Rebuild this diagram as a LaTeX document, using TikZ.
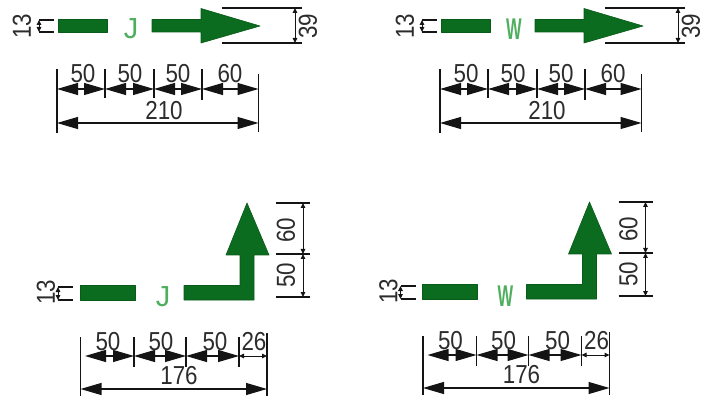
\documentclass[tikz,border=0pt]{standalone}
\usepackage{fontspec}
\setmainfont{Liberation Sans}
\usetikzlibrary{arrows.meta}
\definecolor{arrowgreen}{HTML}{0B6B1E}
\definecolor{lettergreen}{HTML}{4FAF5F}
\definecolor{inkgrey}{HTML}{141414}
\tikzset{
  x=1pt,y=-1pt,
  shapefill/.style={fill=arrowgreen,draw=arrowgreen!85!black,line width=.6pt,line join=round},
  ruling/.style={draw=inkgrey,line width=1.4pt},
  bigdim/.style={draw=inkgrey,line width=1.1pt,{Triangle[length=21pt,width=12pt]}-{Triangle[length=21pt,width=12pt]}},
  smalldim/.style={draw=inkgrey,line width=1pt,{Triangle[length=5pt,width=4.5pt]}-{Triangle[length=5pt,width=4.5pt]}},
  numlabel/.style={inner sep=0pt,text=inkgrey!90!white,xscale=.86,font=\fontsize{26}{26}\selectfont},
  sidelabel/.style={rotate=90,numlabel},
  letterJ/.style={inner sep=0pt,text=lettergreen,font=\fontsize{29}{29}\selectfont},
  letterW/.style={inner sep=0pt,text=lettergreen,xscale=.55,font=\bfseries\fontsize{30}{30}\selectfont},
}
\newcommand{\rulepair}[5]{%
  \coordinate (#1a) at (#2,#3); \coordinate (#1b) at (#4,#5);
  \draw[ruling] (#1a) -- (#1b);}
\newcommand{\spanarrow}[6]{%
  \coordinate (#1a) at (#2,#3); \coordinate (#1b) at (#4,#5);
  \draw[#6] (#1a) -- (#1b);}
\newcommand{\sidebracket}[3]{% x of left side, y top, y bottom
  \coordinate (bkA) at (#1+15,#2); \coordinate (bkB) at (#1,#2);
  \coordinate (bkC) at (#1,#3); \coordinate (bkD) at (#1+15,#3);
  \draw[ruling] (bkA) -- (bkB); \draw[ruling] (bkC) -- (bkD);
  \draw[smalldim] (bkB) -- (bkC);}
\newcommand{\toppanel}[3]{%
  \begin{scope}[shift={(#1,-1)}]
    \node[sidelabel] (thirteen) at (22,27) {13};
    \sidebracket{39}{21}{33}
    \filldraw[shapefill] (58,20.5) rectangle (107,33);
    \node[#2] (letter) at (131,30) {#3};
    \filldraw[shapefill] (152,20.5) -- (201,20.5) -- (201,9.5) -- (260,27) -- (201,44) -- (201,33) -- (152,33) -- cycle;
    \rulepair{eA}{222}{9}{302}{9}
    \rulepair{eB}{222}{44}{302}{44}
    \spanarrow{dA}{295}{9}{295}{44}{smalldim}
    \node[sidelabel] (thirtynine) at (308,27) {39};
    \rulepair{tA}{57}{70}{57}{134}
    \rulepair{tB}{105}{70}{105}{99}
    \rulepair{tC}{154}{70}{154}{99}
    \rulepair{tD}{202}{70}{202}{101}
    \rulepair{tE}{258.5}{75}{258.5}{133}
    \spanarrow{sA}{57}{90}{105}{90}{bigdim}
    \spanarrow{sB}{105}{90}{154}{90}{bigdim}
    \spanarrow{sC}{154}{90}{202}{90}{bigdim}
    \spanarrow{sD}{202}{90}{258.5}{90}{bigdim}
    \spanarrow{sE}{57}{124}{258.5}{124}{bigdim}
    \node[numlabel] (nA) at (83,75) {50};
    \node[numlabel] (nB) at (130,75) {50};
    \node[numlabel] (nC) at (178,75) {50};
    \node[numlabel] (nD) at (230,75) {60};
    \node[numlabel] (nE) at (164,112) {210};
  \end{scope}}
\newcommand{\bottompanel}[4]{%
  \begin{scope}[shift={(#1,#2)}]
    \node[sidelabel] (thirteen) at (46,292) {13};
    \sidebracket{58}{287}{300}
    \filldraw[shapefill] (80,285.5) rectangle (135,300);
    \node[#3] (letter) at (163,297) {#4};
    \filldraw[shapefill] (184,285.5) -- (240,285.5) -- (240,255) -- (226,255) -- (247,203) -- (269,255) -- (254,255) -- (254,300) -- (184,300) -- cycle;
    \rulepair{eA}{276}{203}{310}{203}
    \rulepair{eB}{276}{254}{310}{254}
    \rulepair{eC}{276}{297}{310}{297}
    \spanarrow{dA}{303}{203}{303}{254}{smalldim}
    \spanarrow{dB}{303}{254}{303}{297}{smalldim}
    \node[sidelabel] (sixty) at (286,230) {60};
    \node[sidelabel] (fifty) at (286,275) {50};
    \rulepair{tA}{80.5}{337}{80.5}{396}
    \rulepair{tB}{134}{337}{134}{367}
    \rulepair{tC}{186}{337}{186}{367}
    \rulepair{tD}{239}{337}{239}{367}
    \rulepair{tE}{267}{333}{267}{396}
    \spanarrow{sA}{85}{356}{134}{356}{bigdim}
    \spanarrow{sB}{134}{356}{186}{356}{bigdim}
    \spanarrow{sC}{186}{356}{239}{356}{bigdim}
    \spanarrow{sD}{239}{356}{267}{356}{smalldim}
    \spanarrow{sE}{80.5}{389}{267}{389}{bigdim}
    \node[numlabel] (nA) at (108,342) {50};
    \node[numlabel] (nB) at (161,342) {50};
    \node[numlabel] (nC) at (215,342) {50};
    \node[numlabel] (nD) at (254,342) {26};
    \node[numlabel] (nE) at (179,376) {176};
  \end{scope}}
\begin{document}
\begin{tikzpicture}
  \path[use as bounding box,fill=white] (0,0) rectangle (705,401);
  \toppanel{0}{letterJ}{J}
  \toppanel{383}{letterW}{W}
  \bottompanel{0}{0}{letterJ}{J}
  \bottompanel{342.5}{-1}{letterW}{W}
\end{tikzpicture}
\end{document}
